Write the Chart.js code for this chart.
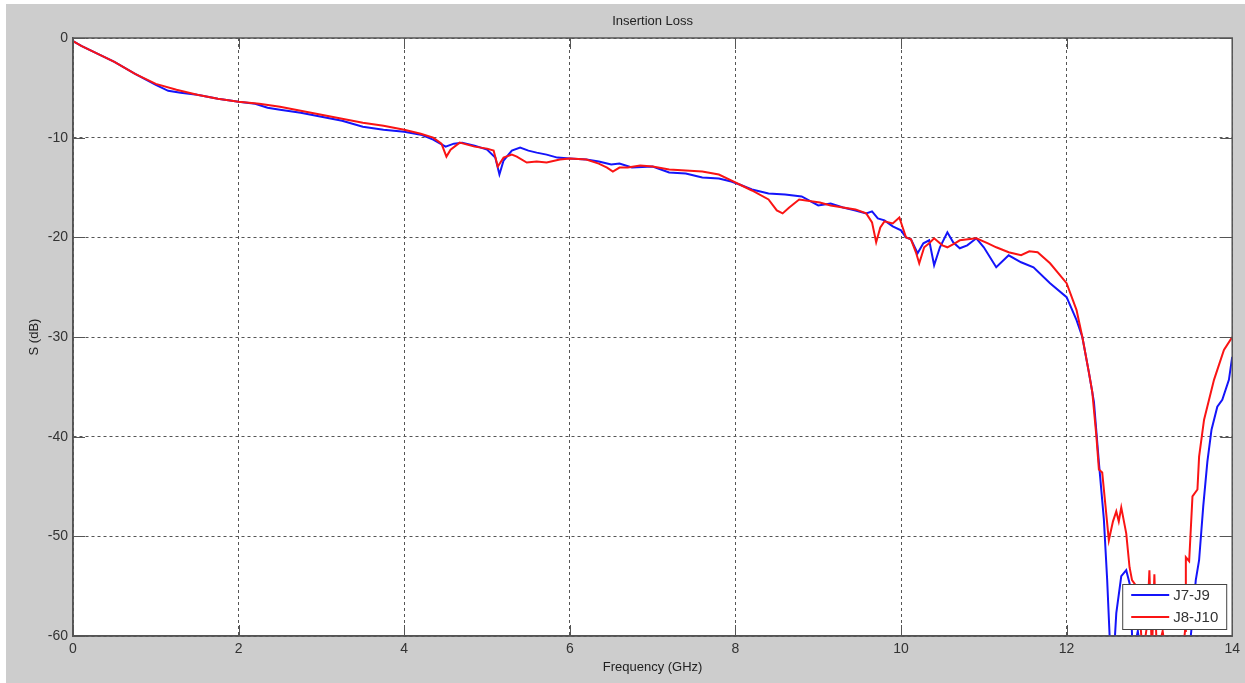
<!DOCTYPE html>
<html>
<head>
<meta charset="utf-8">
<script src="https://cdn.jsdelivr.net/npm/chart.js@4.4.0/dist/chart.umd.min.js"></script>
<style>
  html, body { margin: 0; padding: 0; background: #fff; }
  #wrap { width: 1245px; height: 683px; }
</style>
</head>
<body>
<div id="wrap"><canvas id="grafik" width="1245" height="683"></canvas></div>
<script>
// frekvencije (GHz) i gubici (dB) ocitani sa slike
var freqJ7J9 = [0,0.1,0.25,0.5,0.75,1.0,1.15,1.3,1.5,1.75,2.0,2.2,2.35,2.5,2.75,3.0,3.25,3.5,3.75,4.0,4.2,4.35,4.5,4.6,4.7,4.85,5.0,5.1,5.15,5.2,5.3,5.4,5.5,5.6,5.72,5.85,6.0,6.2,6.35,6.5,6.6,6.75,7.0,7.2,7.4,7.6,7.8,7.95,8.05,8.2,8.4,8.6,8.8,9.0,9.15,9.3,9.45,9.58,9.65,9.72,9.8,9.9,10.0,10.06,10.12,10.2,10.27,10.34,10.4,10.47,10.56,10.63,10.71,10.8,10.91,11.0,11.15,11.3,11.45,11.6,11.8,12.0,12.12,12.19,12.27,12.33,12.39,12.45,12.49,12.53,12.57,12.6,12.66,12.72,12.76,12.78,12.8,12.86,12.9,13.48,13.5,13.56,13.6,13.65,13.7,13.75,13.82,13.88,13.96,14.0];
var lossJ7J9 = [-0.3,-0.8,-1.4,-2.4,-3.6,-4.7,-5.3,-5.5,-5.7,-6.1,-6.4,-6.6,-7.0,-7.2,-7.5,-7.9,-8.3,-8.9,-9.2,-9.4,-9.7,-10.2,-10.9,-10.6,-10.5,-10.8,-11.2,-12.0,-13.7,-12.3,-11.3,-11.0,-11.3,-11.5,-11.7,-12.0,-12.1,-12.2,-12.4,-12.7,-12.6,-13.0,-12.9,-13.5,-13.6,-14.0,-14.1,-14.4,-14.7,-15.2,-15.6,-15.7,-15.9,-16.8,-16.6,-17.0,-17.3,-17.6,-17.4,-18.1,-18.3,-18.9,-19.3,-20.0,-20.2,-21.6,-20.6,-20.3,-22.8,-21.0,-19.5,-20.5,-21.1,-20.8,-20.1,-21.0,-23.0,-21.8,-22.5,-23.0,-24.6,-26.0,-28.3,-30.0,-33.6,-36.5,-42.6,-48.3,-54.4,-62,-62,-57.7,-54.0,-53.4,-54.7,-57.7,-62,-59.5,-62,-62,-60,-54.4,-52.4,-47.0,-42.5,-39.3,-37.0,-36.3,-34.3,-32.0];

var freqJ8J10 = [0,0.1,0.25,0.5,0.75,1.0,1.25,1.5,1.75,2.0,2.25,2.5,2.75,3.0,3.25,3.5,3.75,4.0,4.2,4.35,4.45,4.51,4.56,4.67,4.85,5.0,5.08,5.13,5.2,5.3,5.36,5.48,5.6,5.72,5.88,6.0,6.2,6.35,6.45,6.52,6.6,6.7,6.85,7.0,7.2,7.4,7.6,7.8,7.93,8.05,8.2,8.4,8.5,8.57,8.65,8.77,9.02,9.15,9.3,9.45,9.58,9.65,9.7,9.75,9.8,9.9,9.98,10.06,10.12,10.18,10.22,10.28,10.34,10.4,10.5,10.56,10.65,10.71,10.91,11.05,11.15,11.3,11.45,11.55,11.65,11.8,12.0,12.12,12.19,12.27,12.31,12.36,12.39,12.43,12.47,12.51,12.56,12.6,12.63,12.66,12.72,12.76,12.79,12.85,12.88,12.92,12.97,13.0,13.03,13.06,13.09,13.16,13.2,13.4,13.43,13.44,13.48,13.52,13.58,13.6,13.66,13.72,13.78,13.9,14.0];
var lossJ8J10 = [-0.3,-0.8,-1.4,-2.4,-3.6,-4.6,-5.2,-5.7,-6.1,-6.4,-6.6,-6.9,-7.3,-7.7,-8.1,-8.5,-8.8,-9.2,-9.6,-10.0,-10.6,-11.9,-11.2,-10.5,-10.9,-11.1,-11.3,-12.9,-12.0,-11.7,-11.9,-12.5,-12.4,-12.5,-12.2,-12.1,-12.2,-12.6,-13.0,-13.4,-13.0,-13.0,-12.8,-12.9,-13.2,-13.3,-13.4,-13.7,-14.2,-14.7,-15.3,-16.2,-17.3,-17.6,-17.0,-16.2,-16.5,-16.8,-17.0,-17.2,-17.6,-18.5,-20.5,-19.0,-18.4,-18.6,-18.0,-20.0,-20.2,-21.5,-22.6,-21.0,-20.6,-20.1,-20.8,-21.0,-20.6,-20.3,-20.1,-20.6,-21.0,-21.5,-21.8,-21.4,-21.5,-22.6,-24.6,-27.3,-30.0,-33.6,-35.5,-40.0,-43.3,-43.6,-47.0,-50.4,-48.5,-47.5,-48.5,-47.1,-49.7,-53.1,-54.4,-55.1,-57.5,-62,-59.0,-53.4,-62,-53.8,-62,-59.5,-62,-62,-59.5,-52.1,-52.5,-46.0,-45.3,-42.0,-38.3,-36.3,-34.3,-31.3,-30.0];

var xTicks = [0, 2, 4, 6, 8, 10, 12, 14];
var yTicks = [-60, -50, -40, -30, -20, -10, 0];

var font = '"Liberation Sans", Arial, sans-serif';

function tocke(fr, vr){
    var out = [];
    for(var i=0;i<fr.length;i++){ out.push({x:fr[i], y:vr[i]}); }
    return out;
}

// siva pozadina i bijelo podrucje grafa
var pozadina = {
    id:'pozadina',
    beforeDraw:function(chart){
        var ctx = chart.ctx, a = chart.chartArea;
        ctx.save();
        ctx.fillStyle = '#fff';
        ctx.fillRect(0,0,chart.width,chart.height);
        ctx.fillStyle = '#cdcdcd';
        ctx.fillRect(6,4,chart.width-6,chart.height-4);
        ctx.fillStyle = '#fff';
        ctx.fillRect(a.left,a.top,a.right-a.left,a.bottom-a.top);
        ctx.restore();
    }
};

// okvir, unutarnje crtice i legenda
var okvir = {
    id:'okvir',
    afterDraw:function(chart){
        var ctx = chart.ctx, a = chart.chartArea;
        var sx = chart.scales.x, sy = chart.scales.y;
        ctx.save();
        ctx.strokeStyle = '#555';
        ctx.lineWidth = 1.5;
        ctx.setLineDash([]);
        ctx.strokeRect(a.left,a.top,a.right-a.left,a.bottom-a.top);
        ctx.lineWidth = 1;
        ctx.beginPath();
        sx.ticks.forEach(function(t){
            var px = Math.round(sx.getPixelForValue(t.value))+0.5;
            ctx.moveTo(px,a.bottom); ctx.lineTo(px,a.bottom-11);
            ctx.moveTo(px,a.top); ctx.lineTo(px,a.top+11);
        });
        sy.ticks.forEach(function(t){
            var py = Math.round(sy.getPixelForValue(t.value))+0.5;
            ctx.moveTo(a.left,py); ctx.lineTo(a.left+12,py);
            ctx.moveTo(a.right,py); ctx.lineTo(a.right-12,py);
        });
        ctx.stroke();

        // legenda
        var lx = a.right-110, ly = a.bottom-52, lw = 104, lh = 45;
        ctx.fillStyle = '#fff';
        ctx.fillRect(lx,ly,lw,lh);
        ctx.strokeStyle = '#444';
        ctx.lineWidth = 1;
        ctx.strokeRect(lx+0.5,ly+0.5,lw,lh);
        ctx.font = '15px ' + font;
        ctx.textBaseline = 'middle';
        ctx.textAlign = 'left';
        chart.data.datasets.forEach(function(ds,i){
            var yy = ly + 11 + i*22;
            ctx.strokeStyle = ds.borderColor;
            ctx.lineWidth = 2;
            ctx.beginPath();
            ctx.moveTo(lx+9,yy); ctx.lineTo(lx+47,yy);
            ctx.stroke();
            ctx.fillStyle = '#333';
            ctx.fillText(ds.label, lx+51, yy+1);
        });
        ctx.restore();
    }
};

var graf = new Chart(document.getElementById('grafik'),{
    type:'line',
    data:{
        datasets:[{
            label:'J7-J9',
            data:tocke(freqJ7J9,lossJ7J9),
            borderColor:'rgb(20,20,250)',
            borderWidth:2,
            pointRadius:0,
            tension:0,
            order:1
        },{
            label:'J8-J10',
            data:tocke(freqJ8J10,lossJ8J10),
            borderColor:'rgb(250,20,20)',
            borderWidth:2,
            pointRadius:0,
            tension:0,
            order:0
        }]
    },
    options:{
        responsive:false,
        animation:false,
        layout:{ padding:{ left:0, right:12, top:0, bottom:0 } },
        plugins:{
            legend:{ display:false },
            tooltip:{ enabled:false },
            title:{
                display:true,
                text:'Insertion Loss',
                fullSize:false,
                color:'#222',
                font:{ family:font, size:13, weight:'normal' },
                padding:{ top:14, bottom:8.4 }
            }
        },
        scales:{
            x:{
                type:'linear',
                min:0, max:14,
                afterBuildTicks:function(s){ s.ticks = xTicks.map(function(v){ return {value:v}; }); },
                afterFit:function(s){ s.height = 47; },
                ticks:{ color:'#333', font:{ family:font, size:14 }, padding:5, maxRotation:0 },
                grid:{ color:'#555', lineWidth:1, drawTicks:false },
                border:{ color:'#555', width:1.5, dash:[3,3] },
                title:{ display:true, text:'Frequency (GHz)', color:'#222', font:{ family:font, size:13 }, padding:{ top:0, bottom:8 } }
            },
            y:{
                min:-60, max:0,
                afterBuildTicks:function(s){ s.ticks = yTicks.map(function(v){ return {value:v}; }); },
                afterFit:function(s){ s.width = 73; },
                ticks:{ color:'#333', font:{ family:font, size:14 }, padding:5 },
                grid:{ color:'#555', lineWidth:1, drawTicks:false },
                border:{ color:'#555', width:1.5, dash:[3,3] },
                title:{ display:true, text:'S (dB)', color:'#222', font:{ family:font, size:13 }, padding:{ top:27, bottom:0 } }
            }
        }
    },
    plugins:[pozadina, okvir]
});
</script>
</body>
</html>
